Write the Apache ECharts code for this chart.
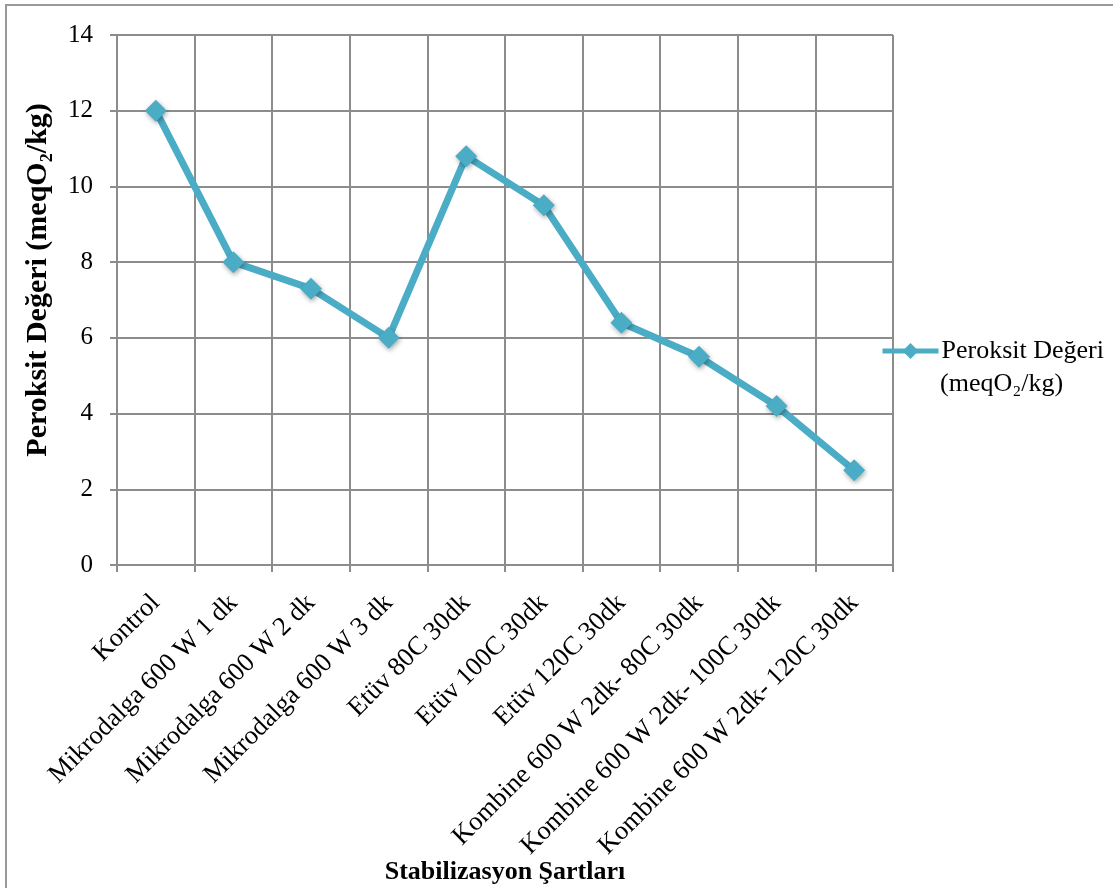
<!DOCTYPE html>
<html>
<head>
<meta charset="utf-8">
<script src="https://cdn.jsdelivr.net/npm/echarts@6/dist/echarts.min.js"></script>
<style>
  html, body { margin: 0; padding: 0; background: #fff; }
  #chart { width: 1113px; height: 888px; }
</style>
</head>
<body>
<div id="chart"></div>
<script>
// Chart data
var categories = [
  'Kontrol',
  'Mikrodalga 600 W 1 dk',
  'Mikrodalga 600 W 2 dk',
  'Mikrodalga 600 W 3 dk',
  'Etüv 80C 30dk',
  'Etüv 100C 30dk',
  'Etüv 120C 30dk',
  'Kombine 600 W 2dk- 80C 30dk',
  'Kombine 600 W 2dk- 100C 30dk',
  'Kombine 600 W 2dk- 120C 30dk'
];
var peroxideValues = [12, 8, 7.3, 6, 10.8, 9.5, 6.4, 5.5, 4.2, 2.5];
var seriesName = 'Peroksit Değeri';
var seriesUnit = '(meqO₂/kg)';
var yTitle = 'Peroksit Değeri (meqO₂/kg)';
var xTitle = 'Stabilizasyon Şartları';

var font = 'Liberation Serif';
var gridColor = '#8c8c8c';
var lineColor = '#4bacc6';

var myChart = echarts.init(document.getElementById('chart'));

var chartOptions = {
  animation: false,
  textStyle: { fontFamily: font },
  graphic: [{
    type: 'rect',
    shape: { x: 6, y: 5, width: 1120, height: 900 },
    style: { fill: 'none', stroke: '#999', lineWidth: 2 }
  }, {
    // second line of the legend entry
    type: 'text',
    left: 940,
    top: 371,
    style: { text: seriesUnit, font: '26px "Liberation Serif"', fill: '#000' }
  }],
  grid: { left: 117, right: 220, top: 35, bottom: 323, outerBoundsMode: 'none' },
  legend: {
    left: 880,
    top: 338,
    padding: 0,
    itemWidth: 56,
    itemHeight: 20,
    itemGap: 4,
    lineStyle: { width: 5 },
    textStyle: { fontFamily: font, fontSize: 26, color: '#000', padding: [0, 0, 0, -2] },
    data: [seriesName]
  },
  xAxis: {
    type: 'category',
    data: categories,
    boundaryGap: true,
    name: xTitle,
    nameLocation: 'middle',
    nameGap: 294,
    nameMoveOverlap: false,
    nameTextStyle: { fontFamily: font, fontSize: 26, fontWeight: 'bold', color: '#000' },
    axisLine: { lineStyle: { color: gridColor, width: 2 } },
    axisTick: { show: true, length: 7, lineStyle: { color: gridColor, width: 2 } },
    axisLabel: { rotate: 45, margin: 34, fontSize: 26.5, color: '#000', fontFamily: font, interval: 0 },
    splitLine: { show: true, lineStyle: { color: gridColor, width: 2 } }
  },
  yAxis: {
    type: 'value',
    min: 0,
    max: 14,
    interval: 2,
    name: yTitle,
    nameLocation: 'middle',
    nameGap: 64,
    nameTextStyle: { fontFamily: font, fontSize: 30, fontWeight: 'bold', color: '#000', padding: [0, 0, 0, 40] },
    axisLine: { show: true, lineStyle: { color: gridColor, width: 2 } },
    axisTick: { show: true, length: 7, lineStyle: { color: gridColor, width: 2 } },
    axisLabel: { margin: 24, fontSize: 25, color: '#000', fontFamily: font },
    splitLine: { show: true, lineStyle: { color: gridColor, width: 2 } }
  },
  series: [{
    name: seriesName,
    type: 'line',
    data: peroxideValues,
    symbol: 'diamond',
    symbolSize: 22,
    lineStyle: { color: lineColor, width: 7 },
    itemStyle: {
      color: lineColor,
      shadowBlur: 5,
      shadowColor: 'rgba(0,0,0,0.35)',
      shadowOffsetX: 1,
      shadowOffsetY: 2
    }
  }]
};

myChart.setOption(chartOptions);
</script>
</body>
</html>
